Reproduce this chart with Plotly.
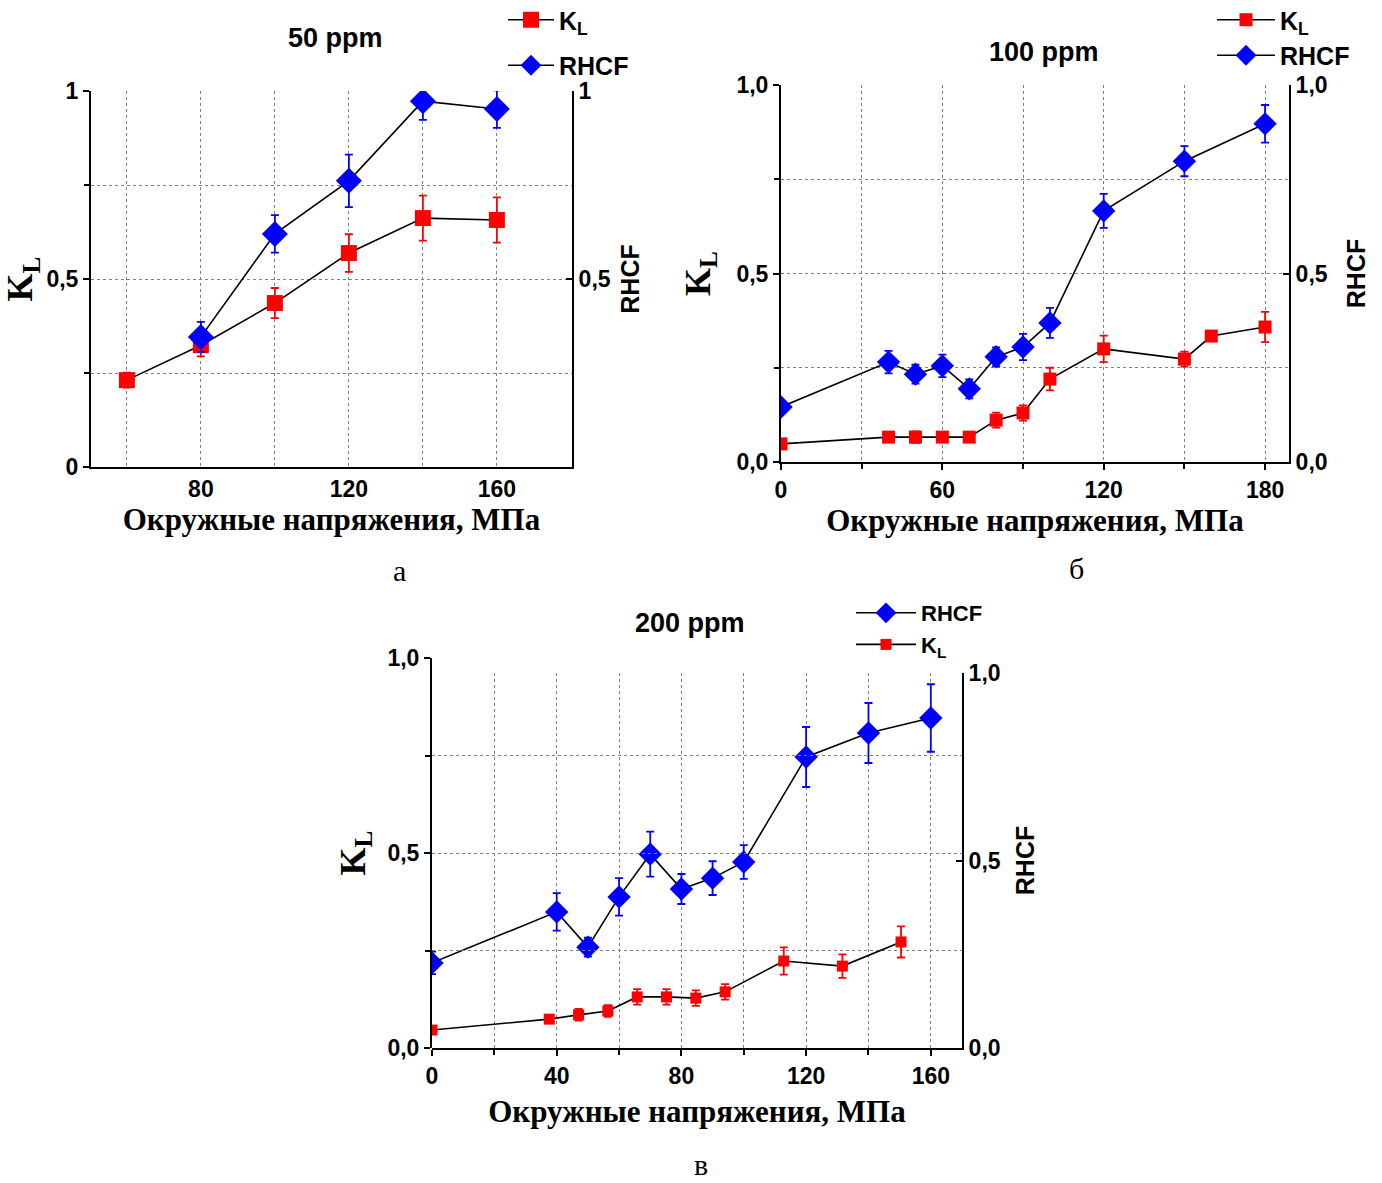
import plotly.graph_objects as go

# ---------------- data ----------------
# panel a: 50 ppm
a_kl_x = [60, 80, 100, 120, 140, 160]
a_kl_y = [0.231, 0.324, 0.436, 0.569, 0.662, 0.657]
a_kl_err = [0.02, 0.03, 0.04, 0.05, 0.06, 0.06]
a_rh_x = [80, 100, 120, 140, 160]
a_rh_y = [0.346, 0.620, 0.761, 0.973, 0.952]
a_rh_err = [0.04, 0.05, 0.07, 0.05, 0.05]

# panel b: 100 ppm
b_kl_x = [0, 40, 50, 60, 70, 80, 90, 100, 120, 150, 160, 180]
b_kl_y = [0.048, 0.066, 0.066, 0.066, 0.066, 0.111, 0.130, 0.220, 0.300, 0.273, 0.334, 0.358]
b_kl_err = [0.0, 0.01, 0.015, 0.01, 0.0, 0.02, 0.02, 0.03, 0.035, 0.02, 0.0, 0.04]
b_rh_x = [0, 40, 50, 60, 70, 80, 90, 100, 120, 150, 180]
b_rh_y = [0.146, 0.265, 0.233, 0.255, 0.194, 0.279, 0.305, 0.369, 0.666, 0.798, 0.897]
b_rh_err = [0.015, 0.03, 0.025, 0.03, 0.025, 0.025, 0.035, 0.04, 0.045, 0.04, 0.05]

# panel c: 200 ppm (K_L layer has its own stress scale)
c_kl_x = [0, 40, 50, 60, 70, 80, 90, 100, 120, 140, 160]
c_kl_y = [0.046, 0.074, 0.085, 0.095, 0.131, 0.131, 0.128, 0.144, 0.223, 0.210, 0.272]
c_kl_err = [0.0, 0.01, 0.015, 0.015, 0.02, 0.02, 0.02, 0.02, 0.035, 0.03, 0.04]
c_rh_x = [0, 40, 50, 60, 70, 80, 90, 100, 120, 140, 160]
c_rh_y = [0.227, 0.363, 0.269, 0.403, 0.517, 0.424, 0.453, 0.496, 0.776, 0.840, 0.880]
c_rh_err = [0.03, 0.05, 0.025, 0.05, 0.06, 0.04, 0.045, 0.045, 0.08, 0.08, 0.09]

titles = ["50 ppm", "100 ppm", "200 ppm"]
panel_letters = ["а", "б", "в"]
x_title = "Окружные напряжения, МПа"

# ---------------- styling ----------------
W, H = 1382, 1183
RED = "#ff0000"
BLUE = "#0000ff"
SANS = "Liberation Sans, Arial"
SERIF = "Liberation Serif, Times New Roman, serif"
GRID = "#7f7f7f"


def px_x(p):
    return p / W


def px_y(p):
    return 1 - p / H


tick_font = dict(family=SANS, size=23, color="black", weight="bold")
serif_title = dict(family=SERIF, size=31, color="black", weight="bold")
ytitle_font = dict(family=SERIF, size=36, color="black", weight="bold")
rtitle_font = dict(family=SANS, size=25, color="black", weight="bold")
legend_font = dict(family=SANS, size=25, color="black", weight="bold")


def series(x, y, err, color, symbol, size, name, xaxis, yaxis, legend, group):
    return go.Scatter(
        x=x, y=y, name=name, mode="lines+markers",
        xaxis=xaxis, yaxis=yaxis, legend=legend, legendgroup=group,
        line=dict(color="black", width=1.6),
        marker=dict(color=color, symbol=symbol, size=size, line=dict(width=0)),
        error_y=dict(type="data", array=err, visible=True, color=color,
                     thickness=1.8, width=4),
    )


fig = go.Figure()

# panel a
fig.add_trace(series(a_kl_x, a_kl_y, a_kl_err, RED, "square", 16,
                     "K<sub>L</sub>", "x", "y", "legend", "a1"))
fig.add_trace(series(a_rh_x, a_rh_y, a_rh_err, BLUE, "diamond", 20,
                     "RHCF", "x", "y2", "legend", "a2"))
# panel b
fig.add_trace(series(b_kl_x, b_kl_y, b_kl_err, RED, "square", 13,
                     "K<sub>L</sub>", "x2", "y3", "legend2", "b1"))
fig.add_trace(series(b_rh_x, b_rh_y, b_rh_err, BLUE, "diamond", 18,
                     "RHCF", "x2", "y4", "legend2", "b2"))
# panel c
fig.add_trace(series(c_rh_x, c_rh_y, c_rh_err, BLUE, "diamond", 18,
                     "RHCF", "x3", "y6", "legend3", "c1"))
fig.add_trace(series(c_kl_x, c_kl_y, c_kl_err, RED, "square", 11,
                     "K<sub>L</sub>", "x4", "y5", "legend3", "c2"))

axis_common = dict(showline=True, linecolor="black", linewidth=2,
                   zeroline=False, tickfont=tick_font, tickcolor="black",
                   tickwidth=2, gridcolor=GRID, griddash="dot", gridwidth=1)


def minor_grid(step, ticks="outside", vals=None):
    d = dict(showgrid=True, gridcolor=GRID, griddash="dot", gridwidth=1,
             ticks=ticks, ticklen=5, tickcolor="black", tickwidth=2)
    if vals is None:
        d.update(tick0=0, dtick=step)
    else:
        d.update(tickmode="array", tickvals=vals)
    return d


def yleft(domain, anchor, fmt, standoff):
    return dict(axis_common, domain=domain, anchor=anchor, range=[0, 1],
                tickmode="linear", tick0=0, dtick=0.5, tickformat=fmt,
                ticks="outside", ticklen=6, showgrid=True,
                minor=minor_grid(0.25),
                title=dict(text="K<sub>L</sub>", font=ytitle_font, standoff=standoff))


def yright(domain, anchor, standoff, overlay=None, fmt=".1f", vals=None):
    d = dict(axis_common, domain=domain, anchor=anchor, range=[0, 1], side="right",
             ticks="inside", ticklen=6, showgrid=False, tickformat=fmt,
             title=dict(text="RHCF", font=rtitle_font, standoff=standoff))
    if vals is None:
        d.update(tickmode="linear", tick0=0, dtick=0.5)
    else:
        d.update(tickmode="array", tickvals=vals)
    if overlay:
        d["overlaying"] = overlay
    return d


def xaxis(domain, anchor, rng, major, minor, standoff, ticks="outside", minor_vals=None):
    return dict(axis_common, domain=domain, anchor=anchor, range=rng,
                tickmode="linear", tick0=0, dtick=major,
                ticks=ticks, ticklen=6, showgrid=True,
                minor=minor_grid(minor, ticks, minor_vals),
                title=dict(text=x_title, font=serif_title, standoff=standoff))


dom_a_x = [px_x(91), px_x(572)]
dom_a_y = [px_y(467), px_y(91)]
dom_b_x = [px_x(781), px_x(1289)]
dom_b_y = [px_y(462), px_y(85)]
dom_c_x = [px_x(432), px_x(962)]
dom_c_y = [px_y(1048), px_y(658)]
dom_c_y_r = [px_y(1048), px_y(673)]

fig.update_layout(
    separators=",.",
    xaxis=xaxis(dom_a_x, "y", [50.3, 180.3], 40, 20, 0, ticks="",
                minor_vals=[60, 100, 140]),
    yaxis=yleft(dom_a_y, "x", "", 14),
    yaxis2=yright(dom_a_y, "x", 12, overlay="y", fmt="", vals=[0.5, 1]),
    xaxis2=xaxis(dom_b_x, "y3", [0, 188.9], 60, 30, 0),
    yaxis3=yleft(dom_b_y, "x2", ".1f", 15),
    yaxis4=yright(dom_b_y, "x2", 21, overlay="y3"),
    xaxis3=xaxis(dom_c_x, "y5", [0, 170], 40, 20, 13),
    xaxis4=dict(domain=dom_c_x, anchor="y5", overlaying="x3", range=[0, 180.8],
                visible=False),
    yaxis5=yleft(dom_c_y, "x3", ".1f", 11),
    yaxis6=yright(dom_c_y_r, "x3", 17),
)

legend_common = dict(font=legend_font, bgcolor="rgba(0,0,0,0)", borderwidth=0,
                     xanchor="left", yanchor="top", traceorder="grouped")
fig.update_layout(
    legend=dict(legend_common, x=px_x(503), y=px_y(-3), itemwidth=46,
                tracegroupgap=10),
    legend2=dict(legend_common, x=px_x(1212), y=px_y(-3), itemwidth=58,
                 tracegroupgap=0),
    legend3=dict(legend_common, x=px_x(851), y=px_y(592), itemwidth=60,
                 tracegroupgap=0, font=dict(legend_font, size=22)),
)

annotations = []
title_pos = [(335, 38), (1044, 52), (690, 623)]
for t, (tx, ty) in zip(titles, title_pos):
    annotations.append(dict(text=t, x=px_x(tx), y=px_y(ty), xref="paper", yref="paper",
                            showarrow=False, xanchor="center", yanchor="middle",
                            font=dict(family=SANS, size=27, color="black", weight="bold")))
letter_pos = [(399, 570), (1076, 568), (701, 1164)]
for t, (tx, ty) in zip(panel_letters, letter_pos):
    annotations.append(dict(text=t, x=px_x(tx), y=px_y(ty), xref="paper", yref="paper",
                            showarrow=False, xanchor="center", yanchor="middle",
                            font=dict(family=SERIF, size=30, color="black")))

fig.update_layout(
    annotations=annotations,
    width=W, height=H, autosize=False,
    margin=dict(l=0, r=0, t=0, b=0, autoexpand=False),
    paper_bgcolor="white", plot_bgcolor="rgba(0,0,0,0)",
    showlegend=True,
)

fig.write_html("out.html")
